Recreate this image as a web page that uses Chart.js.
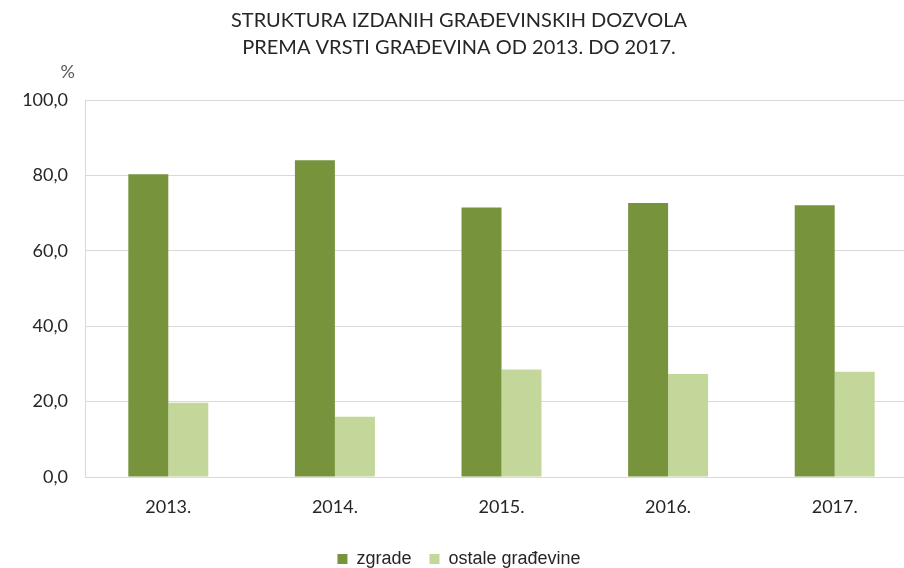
<!DOCTYPE html>
<html>
<head>
<meta charset="utf-8">
<script src="https://cdn.jsdelivr.net/npm/chart.js@4/dist/chart.umd.min.js"></script>
<style>
  html, body { margin: 0; padding: 0; background: #fff; overflow: hidden; }
  #wrap { width: 920px; height: 568px; }
</style>
</head>
<body>
<div id="wrap"><canvas id="canvas"></canvas></div>
<script>
  const years = ["2013.", "2014.", "2015.", "2016.", "2017."];
  const zgrade = [80.3, 84.0, 71.5, 72.7, 72.1];
  const ostale = [19.7, 16.0, 28.5, 27.3, 27.9];
  const titleLines = ["STRUKTURA IZDANIH GRAĐEVINSKIH DOZVOLA", "PREMA VRSTI GRAĐEVINA OD 2013. DO 2017."];

  const colors = {
    dark: "#77933C",
    light: "#C4D79B",
    grid: "#D9D9D9",
    text: "#262626"
  };

  const fontFamily = "Lato, 'Open Sans', sans-serif";

  // draws the "%" unit above the y axis
  const unitLabel = {
    id: "unitLabel",
    afterDraw(chart) {
      const y = chart.scales.y;
      const c = chart.ctx;
      c.save();
      c.font = "18px " + fontFamily;
      c.fillStyle = "#595959";
      c.textAlign = "right";
      c.textBaseline = "middle";
      c.fillText("%", y.right - 10, y.top - 28);
      c.restore();
    }
  };

  const ctx = document.getElementById("canvas").getContext("2d");

  new Chart(ctx, {
    type: "bar",
    data: {
      labels: years,
      datasets: [
        {
          label: "zgrade",
          data: zgrade,
          backgroundColor: colors.dark,
          categoryPercentage: 0.48,
          barPercentage: 1
        },
        {
          label: "ostale građevine",
          data: ostale,
          backgroundColor: colors.light,
          categoryPercentage: 0.48,
          barPercentage: 1
        }
      ]
    },
    options: {
      responsive: true,
      maintainAspectRatio: false,
      animation: false,
      layout: { padding: { left: 0, right: 2, top: 0, bottom: -10 } },
      scales: {
        x: {
          grid: { display: false },
          border: { display: true, color: colors.grid },
          ticks: { color: colors.text, font: { family: fontFamily, size: 18 }, padding: 11 },
          afterFit(scale) { scale.height = 55; }
        },
        y: {
          min: 0,
          max: 100,
          ticks: {
            stepSize: 20,
            color: colors.text,
            font: { family: fontFamily, size: 18 },
            padding: 17,
            callback: (v) => v.toFixed(1).replace(".", ",")
          },
          grid: { color: colors.grid, drawTicks: false },
          border: { display: true, color: colors.grid },
          afterFit(scale) { scale.width = 85; }
        }
      },
      plugins: {
        title: {
          display: true,
          text: titleLines,
          color: colors.text,
          font: { family: fontFamily, size: 20, weight: "normal", lineHeight: 1.35 },
          padding: { top: 7, bottom: 39 }
        },
        legend: {
          position: "bottom",
          labels: {
            boxWidth: 10,
            boxHeight: 10,
            color: colors.text,
            font: { family: "'Liberation Sans', Arial, sans-serif", size: 18 },
            padding: 18
          }
        },
        tooltip: { enabled: false }
      }
    },
    plugins: [unitLabel]
  });
</script>
</body>
</html>
